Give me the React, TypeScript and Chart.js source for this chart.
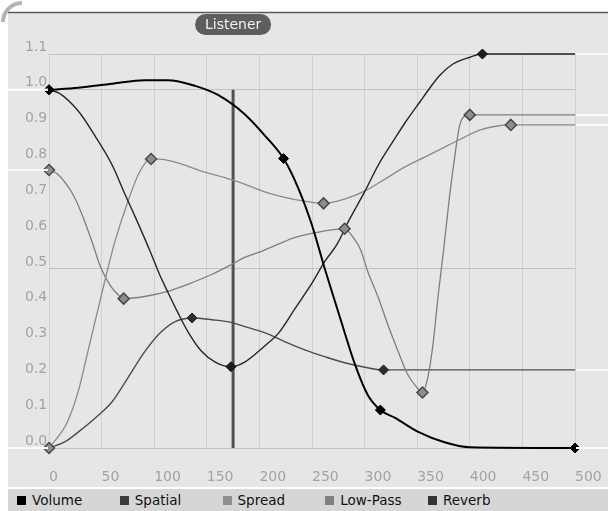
import React, { useEffect, useRef } from "react";
import { Chart, registerables } from "chart.js";

Chart.register(...registerables);

const seriesNames = ["Volume", "Spatial", "Spread", "Low-Pass", "Reverb"];
const legendColors = ["#000000", "#3d3d3d", "#8f8f8f", "#808080", "#333333"];

const xMin = 0;
const xMax = 500;
const xStep = 50;
const yMin = 0;
const yMax = 1.1;
const yStep = 0.1;
const yGridShown = [0, 0.5, 1.0, 1.1];

const listenerLabel = "Listener";
const listenerX = 175;
const listenerTop = 1.0;

// Volume
const volumeX = [0, 28, 60, 91, 113, 139, 161, 186, 205, 223, 237, 250, 262, 278, 291, 303, 315, 329, 351, 376, 400, 500];
const volumeY = [1.0, 1.006, 1.017, 1.027, 1.027, 1.011, 0.985, 0.932, 0.873, 0.808, 0.725, 0.622, 0.502, 0.351, 0.232, 0.148, 0.106, 0.084, 0.045, 0.016, 0.002, 0];
const volumeKeyX = [0, 223, 315, 500];
const volumeKeyY = [1.0, 0.808, 0.106, 0];

// Spatial
const spatialX = [0, 15, 28, 44, 60, 75, 91, 107, 120, 136, 155, 174, 186, 205, 224, 243, 262, 281, 298, 318, 500];
const spatialY = [0, 0.017, 0.045, 0.084, 0.129, 0.196, 0.269, 0.325, 0.353, 0.363, 0.358, 0.35, 0.339, 0.322, 0.297, 0.274, 0.255, 0.238, 0.227, 0.218, 0.218];
const spatialKeyX = [0, 136, 318];
const spatialKeyY = [0, 0.363, 0.218];

// Spread
const spreadX = [0, 17, 28, 37, 46, 55, 62, 74, 86, 97, 110, 129, 148, 167, 186, 205, 224, 243, 261, 281, 300, 319, 338, 357, 376, 391, 410, 426, 439, 500];
const spreadY = [0, 0.07, 0.16, 0.27, 0.38, 0.49, 0.57, 0.68, 0.77, 0.807, 0.805, 0.79, 0.77, 0.755, 0.737, 0.715, 0.7, 0.689, 0.683, 0.695, 0.717, 0.75, 0.784, 0.812, 0.84, 0.862, 0.888, 0.899, 0.902, 0.902];
const spreadKeyX = [0, 97, 261, 439];
const spreadKeyY = [0, 0.807, 0.683, 0.902];

// Low-Pass
const lowPassX = [0, 8, 22, 31, 41, 49, 58, 65, 71, 91, 113, 132, 155, 174, 186, 202, 218, 234, 260, 281, 291, 296, 303, 313, 322, 332, 341, 350, 355, 360, 365, 370, 375, 381, 386, 390, 394, 400, 500];
const lowPassY = [0.776, 0.765, 0.712, 0.655, 0.575, 0.505, 0.455, 0.43, 0.417, 0.423, 0.437, 0.457, 0.485, 0.513, 0.532, 0.549, 0.569, 0.588, 0.605, 0.612, 0.58, 0.555, 0.493, 0.42, 0.345, 0.269, 0.205, 0.168, 0.155, 0.196, 0.289, 0.428, 0.55, 0.709, 0.82, 0.896, 0.924, 0.93, 0.93];
const lowPassKeyX = [0, 71, 281, 355, 400];
const lowPassKeyY = [0.776, 0.417, 0.612, 0.155, 0.93];

// Reverb
const reverbX = [0, 10, 28, 44, 60, 72, 85, 96, 105, 113, 123, 132, 145, 158, 173, 186, 205, 218, 234, 250, 262, 274, 285, 300, 313, 329, 338, 353, 362, 372, 384, 400, 412, 500];
const reverbY = [1.0, 0.99, 0.94, 0.87, 0.79, 0.71, 0.625, 0.55, 0.485, 0.435, 0.375, 0.325, 0.27, 0.24, 0.227, 0.24, 0.285, 0.32, 0.39, 0.46, 0.52, 0.57, 0.635, 0.715, 0.79, 0.865, 0.906, 0.968, 1.005, 1.042, 1.072, 1.091, 1.1, 1.1];
const reverbKeyX = [0, 173, 412];
const reverbKeyY = [1.0, 0.227, 1.1];

const FONT = "'DejaVu Sans', Verdana, sans-serif";

export default function App() {
  const ref = useRef<HTMLCanvasElement>(null);

  useEffect(() => {
    const canvas = ref.current;
    if (!canvas) return;

    const series = [
      { name: seriesNames[0], xs: volumeX, ys: volumeY, kx: volumeKeyX, ky: volumeKeyY, line: "#000000", width: 2, fill: "#000000", stroke: "#000000", r: 5, bw: 1, order: 1 },
      { name: seriesNames[4], xs: reverbX, ys: reverbY, kx: reverbKeyX, ky: reverbKeyY, line: "#262626", width: 1.4, fill: "#1c1c1c", stroke: "#111111", r: 5, bw: 1, order: 2 },
      { name: seriesNames[2], xs: spreadX, ys: spreadY, kx: spreadKeyX, ky: spreadKeyY, line: "#8a8a8a", width: 1.3, fill: "#8e8e8e", stroke: "#484848", r: 5.5, bw: 1.5, order: 3 },
      { name: seriesNames[3], xs: lowPassX, ys: lowPassY, kx: lowPassKeyX, ky: lowPassKeyY, line: "#7e7e7e", width: 1.3, fill: "#8e8e8e", stroke: "#484848", r: 5.5, bw: 1.5, order: 4 },
      { name: seriesNames[1], xs: spatialX, ys: spatialY, kx: spatialKeyX, ky: spatialKeyY, line: "#4c4c4c", width: 1.4, fill: "#2e2e2e", stroke: "#222222", r: 5, bw: 1, order: 5 },
    ];

    const datasets: any[] = [];
    series.forEach((s) => {
      datasets.push({
        label: s.name,
        data: s.xs.map((x, i) => ({ x, y: s.ys[i] })),
        borderColor: s.line,
        borderWidth: s.width,
        pointRadius: 0,
        cubicInterpolationMode: "monotone",
        fill: false,
        order: s.order + 10,
        clip: false,
      });
      datasets.push({
        label: s.name + " keys",
        data: s.kx.map((x, i) => ({ x, y: s.ky[i] })),
        showLine: false,
        pointStyle: "rectRot",
        pointRadius: s.r,
        pointBackgroundColor: s.fill,
        pointBorderColor: s.stroke,
        pointBorderWidth: s.bw,
        order: s.order,
        clip: false,
      });
    });
    datasets.push({
      label: listenerLabel,
      data: [
        { x: listenerX, y: yMin },
        { x: listenerX, y: listenerTop },
      ],
      borderColor: "#525252",
      borderWidth: 3,
      pointRadius: 0,
      fill: false,
      order: 30,
    });

    const backgroundPlugin = {
      id: "panelBg",
      beforeDraw(chart: any) {
        const { ctx, width, height } = chart;
        ctx.save();
        ctx.fillStyle = "#ffffff";
        ctx.fillRect(0, 0, width, height);
        ctx.fillStyle = "#e6e6e6";
        ctx.fillRect(8, 13, width - 8, 474);
        ctx.strokeStyle = "#5a5a5a";
        ctx.lineWidth = 1.5;
        ctx.beginPath();
        ctx.moveTo(8, 12.5);
        ctx.lineTo(width, 12.5);
        ctx.stroke();
        ctx.strokeStyle = "#b4b4b4";
        ctx.lineWidth = 4;
        ctx.beginPath();
        ctx.arc(22, 22, 19, Math.PI, 1.5 * Math.PI);
        ctx.stroke();
        ctx.restore();
      },
    };

    const extensionPlugin = {
      id: "extensions",
      afterDatasetsDraw(chart: any) {
        const { ctx, chartArea, width } = chart;
        const yScale = chart.scales.y;
        ctx.save();
        ctx.strokeStyle = "#fbfbfb";
        ctx.lineWidth = 2;
        series.forEach((s) => {
          const y0 = yScale.getPixelForValue(s.ys[0]);
          const y1 = yScale.getPixelForValue(s.ys[s.ys.length - 1]);
          ctx.beginPath();
          ctx.moveTo(8, y0);
          ctx.lineTo(chartArea.left - 1, y0);
          ctx.moveTo(chartArea.right + 1, y1);
          ctx.lineTo(width, y1);
          ctx.stroke();
        });
        ctx.restore();
      },
    };

    const badgePlugin = {
      id: "listenerBadge",
      afterDraw(chart: any) {
        const { ctx } = chart;
        const x = chart.scales.x.getPixelForValue(listenerX);
        const w = 76;
        const h = 21;
        const top = 14;
        ctx.save();
        ctx.fillStyle = "#5e5e5e";
        ctx.beginPath();
        if (ctx.roundRect) {
          ctx.roundRect(x - w / 2, top, w, h, h / 2);
        } else {
          ctx.rect(x - w / 2, top, w, h);
        }
        ctx.fill();
        ctx.fillStyle = "#f2f2f2";
        ctx.font = `14px ${FONT}`;
        ctx.textAlign = "center";
        ctx.textBaseline = "middle";
        ctx.fillText(listenerLabel, x, top + h / 2 + 0.5);
        ctx.restore();
      },
    };

    const near = (v: number, list: number[]) => list.some((g) => Math.abs(g - v) < 1e-6);

    const chart = new Chart(canvas, {
      type: "line",
      data: { datasets },
      options: {
        animation: false,
        responsive: false,
        maintainAspectRatio: false,
        devicePixelRatio: 1,
        layout: { padding: { left: 25, right: 33, top: 54, bottom: 0 } },
        plugins: {
          legend: { display: false },
          tooltip: { enabled: false },
        },
        scales: {
          x: {
            type: "linear",
            min: xMin,
            max: xMax,
            border: { display: false },
            grid: { color: "#d0d0d0", lineWidth: 1, drawTicks: false },
            ticks: {
              stepSize: xStep,
              align: "start",
              padding: 21,
              maxRotation: 0,
              autoSkip: false,
              color: "#a3a3a3",
              font: { family: FONT, size: 14 },
            },
            afterFit(scale: any) {
              scale.height = 41;
              scale.paddingLeft = 0;
              scale.paddingRight = 0;
            },
          },
          y: {
            type: "linear",
            min: yMin,
            max: yMax,
            border: { display: false },
            grid: {
              drawTicks: false,
              color: (ctx: any) =>
                ctx.tick && near(ctx.tick.value, yGridShown) ? "#c2c2c2" : "rgba(0,0,0,0)",
            },
            ticks: {
              stepSize: yStep,
              crossAlign: "far",
              labelOffset: -7,
              padding: 0,
              autoSkip: false,
              color: "#a3a3a3",
              font: { family: FONT, size: 14 },
              callback: (v: any) => Number(v).toFixed(1),
            },
            afterFit(scale: any) {
              scale.width = 24;
              scale.paddingTop = 0;
              scale.paddingBottom = 0;
            },
          },
        },
      } as any,
      plugins: [backgroundPlugin, extensionPlugin, badgePlugin],
    });

    return () => chart.destroy();
  }, []);

  return (
    <div style={{ position: "fixed", left: 0, top: 0, width: 608, height: 511, background: "#ffffff", overflow: "hidden" }}>
      <canvas ref={ref} width={608} height={489} style={{ display: "block", width: 608, height: 489 }} />
      <div
        style={{
          position: "absolute",
          left: 8,
          top: 489,
          width: 600,
          height: 22,
          background: "#d6d6d6",
          display: "flex",
          alignItems: "center",
          fontFamily: FONT,
          fontSize: 13.5,
          color: "#111111",
        }}
      >
        {seriesNames.map((name, i) => (
          <div key={name} style={{ width: 102.75, display: "flex", alignItems: "center", paddingLeft: 9, boxSizing: "border-box", whiteSpace: "nowrap" }}>
            <span style={{ display: "inline-block", width: 9, height: 9, background: legendColors[i], marginRight: 6 }} />
            <span>{name}</span>
          </div>
        ))}
      </div>
    </div>
  );
}
